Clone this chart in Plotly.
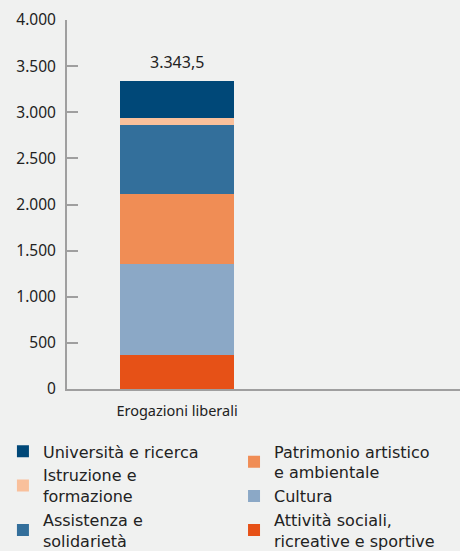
import plotly.graph_objects as go

categories = ["Erogazioni liberali"]
series_names = [
    "Attività sociali,<br>ricreative e sportive",
    "Cultura",
    "Patrimonio artistico<br>e ambientale",
    "Assistenza e<br>solidarietà",
    "Istruzione e<br>formazione",
    "Università e ricerca",
]
series_values = [368, 987, 759, 748, 76, 405.5]
series_colors = ["#e65117", "#8ba8c6", "#f08d55", "#336f9b", "#f9c09b", "#004878"]
legend_group = ["legend2", "legend2", "legend2", "legend", "legend", "legend"]
legend_rank = [3, 2, 1, 3, 2, 1]
tick_vals = [0, 500, 1000, 1500, 2000, 2500, 3000, 3500, 4000]
tick_text = ["0", "500", "1.000", "1.500", "2.000", "2.500", "3.000", "3.500", "4.000"]
total_label = "3.343,5"

FONT = "Noto Sans"
LFONT = "DejaVu Sans"
fig = go.Figure()
for name, val, col, lg, rk in zip(series_names, series_values, series_colors, legend_group, legend_rank):
    fig.add_trace(go.Bar(
        x=categories, y=[val], name=name, marker=dict(color=col, line=dict(width=0)),
        legend=lg, legendrank=rk, hoverinfo="skip",
    ))

total = sum(series_values)
fig.add_annotation(x=categories[0], y=total, text=total_label, showarrow=False,
                   yanchor="bottom", yshift=6, font=dict(family=FONT, size=16, color="#222"))

bg = "#f0f1f0"
axis_col = "#9f9f9f"
fig.update_layout(
    width=460, height=551,
    margin=dict(l=67, r=0, t=20, b=162, autoexpand=False),
    paper_bgcolor=bg, plot_bgcolor=bg,
    barmode="stack", bargap=0.482,
    font=dict(family=FONT, color="#222"),
    xaxis=dict(range=[-0.5, 1.286], showline=True, linecolor=axis_col, linewidth=2,
               ticks="", showgrid=False, zeroline=False, automargin=False,
               ticklabelstandoff=8, layer="above traces",
               tickfont=dict(size=14.5, color="#222")),
    yaxis=dict(range=[0, 4000], tickvals=tick_vals, ticktext=tick_text,
               showline=True, linecolor=axis_col, linewidth=2,
               ticks="inside", ticklen=11, tickcolor=axis_col, tickwidth=2,
               showgrid=False, zeroline=False, ticklabelstandoff=6, automargin=False,
               layer="above traces",
               tickfont=dict(size=15.5, color="#222")),
    legend=dict(x=-0.163, y=-0.123, xanchor="left", yanchor="top", orientation="v",
                font=dict(family=LFONT, size=16, color="#222"), bgcolor="rgba(0,0,0,0)",
                traceorder="normal"),
    legend2=dict(x=0.425, y=-0.123, xanchor="left", yanchor="top", orientation="v",
                 font=dict(family=LFONT, size=16, color="#222"), bgcolor="rgba(0,0,0,0)",
                 traceorder="normal"),
    showlegend=True,
)
fig.write_html("out.html", config={"displayModeBar": False},
               post_script="document.body.style.margin='0';document.body.style.background='#f0f1f0';")
